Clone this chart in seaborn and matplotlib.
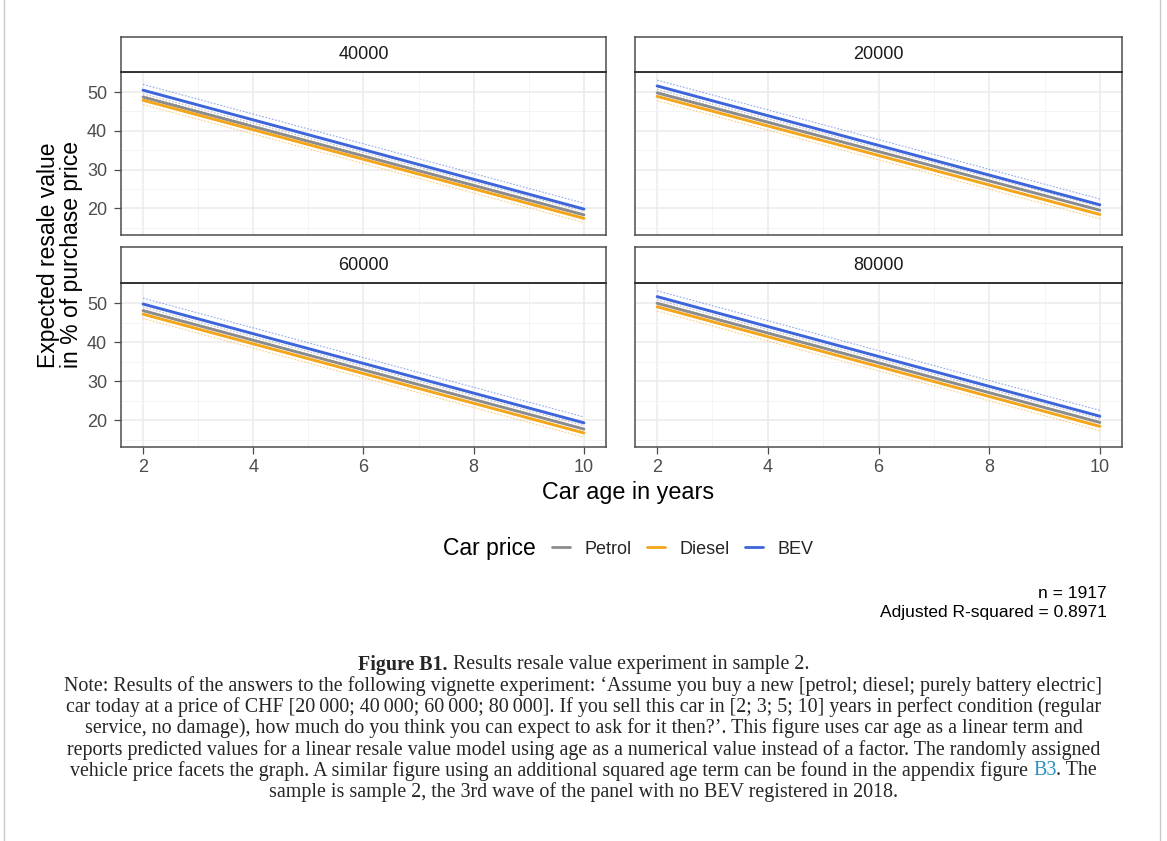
import numpy as np
import pandas as pd
import matplotlib.pyplot as plt
from matplotlib.lines import Line2D
import seaborn as sns

# facets (vehicle price) and the two ends of the age axis
prices = ['40000', '20000', '60000', '80000']
ages = [2, 10]
fuels = ['Petrol', 'Diesel', 'BEV']
fuel_colors = ['#8c8c8c', '#f5a518', '#3d64db']

# predicted resale value (%) at age 2 and age 10, one entry per facet
petrol_start = [48.7, 49.8, 48.1, 50.0]
petrol_end = [18.3, 19.5, 17.7, 19.4]
diesel_start = [47.9, 48.9, 47.2, 49.1]
diesel_end = [17.4, 18.4, 16.7, 18.4]
bev_start = [50.5, 51.6, 49.8, 51.7]
bev_end = [19.8, 20.9, 19.3, 21.0]
# half width of the confidence band: petrol, diesel, bev
ci_half = [0.9, 1.1, 1.5]

rows = []
fits = {'Petrol': (petrol_start, petrol_end),
        'Diesel': (diesel_start, diesel_end),
        'BEV': (bev_start, bev_end)}
for j, fuel in enumerate(fuels):
    st, en = fits[fuel]
    for i, p in enumerate(prices):
        for age, v in zip(ages, [st[i], en[i]]):
            rows.append(dict(price=p, fuel=fuel, age=age, fit=v,
                             lo=v - ci_half[j], hi=v + ci_half[j]))
df = pd.DataFrame(rows)

sns.set_theme(style='white')
plt.rcParams['font.family'] = ['Liberation Sans', 'DejaVu Sans']

W, H = 1167, 841
fig = plt.figure(figsize=(W / 100, H / 100), dpi=100)


def box(x0, y0, x1, y1):
    return [x0 / W, 1 - y1 / H, (x1 - x0) / W, (y1 - y0) / H]


panels = {'40000': (121, 72, 606, 235), '20000': (635, 72, 1122, 235),
          '60000': (121, 283, 606, 447), '80000': (635, 283, 1122, 447)}
strip_top = {72: 37, 283: 247}
pal = dict(zip(fuels, fuel_colors))

for k, p in enumerate(prices):
    x0, y0, x1, y1 = panels[p]
    ax = fig.add_axes(box(x0, y0, x1, y1))
    sub = df[df.price == p]
    for fuel in fuels:
        s = sub[sub.fuel == fuel]
        for col in ['lo', 'hi']:
            ax.plot(s.age, s[col], color=pal[fuel], lw=0.8, ls=(0, (1.5, 1.5)),
                    alpha=0.55, zorder=2)
    sns.lineplot(data=sub, x='age', y='fit', hue='fuel', hue_order=fuels,
                 palette=pal, lw=2.1, legend=False, ax=ax, zorder=3)
    ax.set_xlim(1.6, 10.4)
    ax.set_ylim(13.1, 55.2)
    ax.set_xticks([2, 4, 6, 8, 10])
    ax.set_yticks([20, 30, 40, 50])
    ax.set_xticks([3, 5, 7, 9], minor=True)
    ax.set_yticks([15, 25, 35, 45], minor=True)
    ax.grid(True, which='major', color='#ebebeb', lw=1.1, zorder=0)
    ax.grid(True, which='minor', color='#f2f2f2', lw=0.6, zorder=0)
    ax.set_axisbelow(True)
    ax.set_xlabel('')
    ax.set_ylabel('')
    for sp in ax.spines.values():
        sp.set_color('#4d4d4d')
        sp.set_linewidth(1.1)
    ax.tick_params(axis='y', which='major', length=5, width=0.9, color='#4d4d4d',
                   labelsize=13, labelcolor='#4d4d4d', pad=5,
                   left=(k % 2 == 0), labelleft=(k % 2 == 0))
    ax.tick_params(axis='x', which='major', length=5, width=0.9, color='#4d4d4d',
                   labelsize=13, labelcolor='#4d4d4d', pad=3.5,
                   bottom=(k >= 2), labelbottom=(k >= 2))
    ax.tick_params(which='minor', length=0)

    # facet strip
    st = fig.add_axes(box(x0, strip_top[y0], x1, y0))
    st.set_xticks([])
    st.set_yticks([])
    st.set_facecolor('white')
    for sp in st.spines.values():
        sp.set_color('#4d4d4d')
        sp.set_linewidth(1.1)
    st.spines['bottom'].set_color('#333333')
    st.spines['bottom'].set_linewidth(1.4)
    st.text(0.5, 0.5, p, ha='center', va='center', fontsize=13,
            color='#1a1a1a', transform=st.transAxes)

fig.text(60 / W, 1 - 255 / H, 'Expected resale value\nin % of purchase price',
         rotation=90, ha='center', va='center', fontsize=16.5, color='black',
         linespacing=1.0)
fig.text(628 / W, 1 - 492 / H, 'Car age in years', ha='center', va='center',
         fontsize=16.8, color='black')

# legend
fig.text(443 / W, 1 - 549 / H, 'Car price', ha='left', va='center',
         fontsize=16.5, color='black')
handles = [Line2D([], [], color=c, lw=2.0) for c in fuel_colors]
fig.legend(handles, fuels, loc='center left', bbox_to_anchor=(552 / W, 1 - 549 / H),
           ncol=3, frameon=False, fontsize=13, handlelength=1.0,
           handletextpad=0.8, columnspacing=0.85, borderpad=0, borderaxespad=0)

fig.text(1107 / W, 1 - 593 / H, 'n = 1917', ha='right', va='center',
         fontsize=12.5, color='black')
fig.text(1107 / W, 1 - 612 / H, 'Adjusted R-squared = 0.8971', ha='right',
         va='center', fontsize=12.5, color='black')

# caption
serif = ['Liberation Serif', 'DejaVu Serif']
cap_size = 14.4
renderer = fig.canvas.get_renderer()


def pieces(parts, yc):
    # draw a centred line made of differently styled pieces
    widths = []
    for txt, kw in parts:
        t = fig.text(0, 0, txt, fontsize=cap_size, family=serif, **kw)
        widths.append(t.get_window_extent(renderer).width)
        t.remove()
    x = W / 2 - sum(widths) / 2
    for (txt, kw), w in zip(parts, widths):
        fig.text(x / W, 1 - yc / H, txt, fontsize=cap_size, family=serif,
                 ha='left', va='center', **kw)
        x += w


pieces([('Figure B1.', dict(weight='bold')),
        (' Results resale value experiment in sample 2.', {})], 665)
note = [
    'Note: Results of the answers to the following vignette experiment: \u2018Assume you buy a new [petrol; diesel; purely battery electric]',
    'car today at a price of CHF [20\u2009000; 40\u2009000; 60\u2009000; 80\u2009000]. If you sell this car in [2; 3; 5; 10] years in perfect condition (regular',
    'service, no damage), how much do you think you can expect to ask for it then?\u2019. This figure uses car age as a linear term and',
    'reports predicted values for a linear resale value model using age as a numerical value instead of a factor. The randomly assigned',
]
for i, line in enumerate(note):
    pieces([(line, {})], 686 + i * 21.2)
pieces([('vehicle price facets the graph. A similar figure using an additional squared age term can be found in the appendix figure ', {}),
        ('B3', dict(color='#2a8fc4')), ('. The', {})], 686 + 4 * 21.2)
pieces([('sample is sample 2, the 3rd wave of the panel with no BEV registered in 2018.', {})],
       686 + 5 * 21.2)

# page frame
fig.add_artist(Line2D([4 / W, 4 / W], [0, 1], color='#c8c8c8', lw=1.0))
fig.add_artist(Line2D([1160 / W, 1160 / W], [0, 1], color='#c8c8c8', lw=1.0))

fig.savefig('out.png', dpi=100, facecolor='white')
